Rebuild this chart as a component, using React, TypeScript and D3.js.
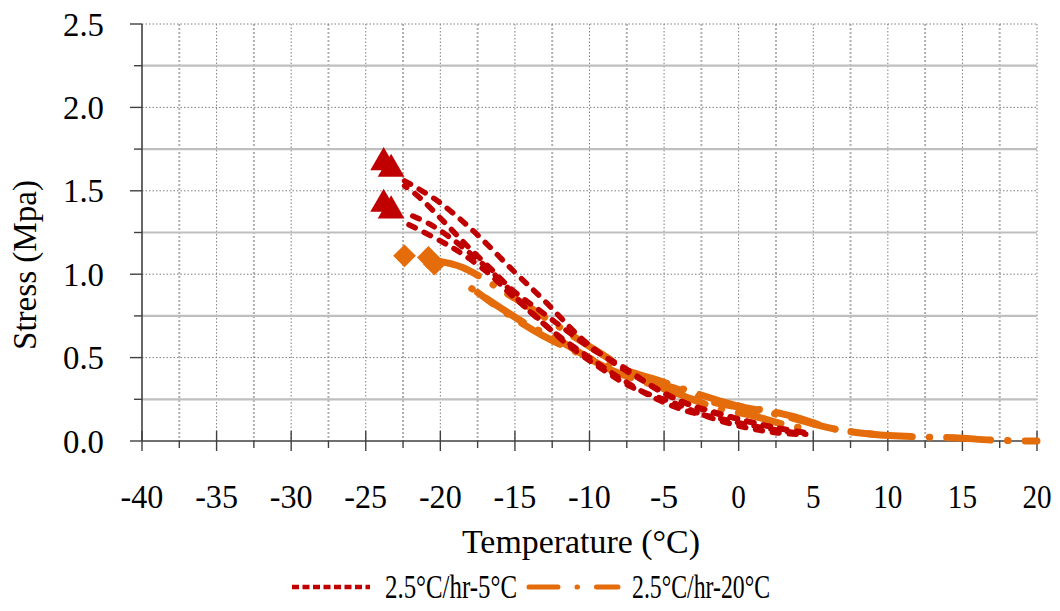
import React from "react";
import * as d3 from "d3";

type Pt = [number, number];

const xTicks = [-40, -35, -30, -25, -20, -15, -10, -5, 0, 5, 10, 15, 20];
const yTicks = [0, 0.5, 1.0, 1.5, 2.0, 2.5];
const seriesNames = ["2.5°C/hr-5°C", "2.5°C/hr-20°C"];

const red1: Pt[] = [[-22.4, 1.56], [-20.2, 1.44], [-17.8, 1.26], [-15.1, 1.02], [-12.9, 0.83], [-10.6, 0.62], [-8.4, 0.47], [-6.2, 0.35], [-3.9, 0.24], [-1.5, 0.17], [1, 0.11], [3, 0.07], [5, 0.04]];
const red2: Pt[] = [[-22.4, 1.53], [-21.4, 1.46], [-19.6, 1.3], [-18.2, 1.17], [-16.7, 1.04], [-15.1, 0.9], [-13.3, 0.78], [-11.5, 0.66], [-9.8, 0.55], [-7.5, 0.43], [-5.3, 0.3], [-2.8, 0.2], [0, 0.13], [2.5, 0.08], [4.5, 0.05]];
const red3: Pt[] = [[-22.4, 1.37], [-20.7, 1.3], [-19.2, 1.21], [-17.8, 1.11], [-15.8, 0.95], [-14.5, 0.82], [-12.5, 0.66], [-10, 0.5], [-8, 0.38], [-5.7, 0.26], [-3.5, 0.18], [-1.5, 0.14], [1, 0.09], [3, 0.06], [4.5, 0.04]];
const red4: Pt[] = [[-22.4, 1.31], [-20, 1.2], [-18.5, 1.12], [-16.7, 1.0], [-15.3, 0.88], [-13.5, 0.74], [-11.5, 0.58], [-9.3, 0.44], [-7.1, 0.32], [-4.4, 0.23], [-1.9, 0.14], [0.5, 0.08], [2.5, 0.05], [4, 0.04]];

const orange1: Pt[] = [[-20.2, 1.08], [-18.5, 1.04], [-15.1, 0.86], [-14, 0.8], [-10.6, 0.6], [-9.5, 0.54], [-6.2, 0.36], [-4.4, 0.32], [-1.6, 0.23], [1, 0.19], [3.5, 0.14], [6, 0.08], [9, 0.04], [12, 0.025], [14.5, 0.02], [17, 0.005], [20, 0.0]];
const orange2: Pt[] = [[-17.5, 0.89], [-15.3, 0.75], [-13.1, 0.63], [-10.8, 0.53], [-8.4, 0.42], [-6.2, 0.35], [-4, 0.28], [-1.5, 0.2], [1, 0.15], [3.5, 0.09], [5, 0.07]];
const orange3: Pt[] = [[-18.5, 0.95], [-16, 0.8], [-14.2, 0.7], [-12, 0.6], [-9.6, 0.48], [-7.5, 0.42], [-5.6, 0.37], [-3, 0.29], [0, 0.21], [2, 0.18], [3.5, 0.15], [6.5, 0.07], [9, 0.04]];

const redMarkers: Pt[] = [[-23.8, 1.67], [-23.3, 1.63], [-23.8, 1.42], [-23.3, 1.38]];
const orangeMarkers: Pt[] = [[-22.4, 1.11], [-20.8, 1.1], [-20.4, 1.06]];

const RED = "#c00000";
const ORANGE = "#e46c0a";
const FONT = "'Liberation Serif', 'Times New Roman', serif";

export default function App() {
  const x = d3.scaleLinear().domain([-40, 20]).range([142, 1037]);
  const y = d3.scaleLinear().domain([0, 2.5]).range([441, 24]);
  const line = d3
    .line<Pt>()
    .x((d) => x(d[0]))
    .y((d) => y(d[1]))
    .curve(d3.curveCatmullRom.alpha(0.5));

  const vGrid = d3.range(-37.5, 20.01, 2.5);
  const hGrid = d3.range(0.25, 2.51, 0.25);
  const xMinor = d3.range(-37.5, 20, 5);
  const yMinor = d3.range(0.25, 2.5, 0.5);

  const tri = d3.symbol().type(d3.symbolTriangle).size(310)();
  const dia = d3.symbol().type(d3.symbolSquare).size(260)();

  const xLabelWidth = (v: number) => {
    const s = String(v);
    return s.length * 14.6 + (s.startsWith("-") ? -1 : 0);
  };

  return (
    <svg
      width={1060}
      height={611}
      style={{ position: "absolute", left: 0, top: 0, background: "#fff" }}
      fontFamily={FONT}
    >
      <rect x={0} y={0} width={1060} height={611} fill="#fff" />
      {vGrid.map((v) => {
        const major = Math.abs(v % 5) < 1e-6;
        return (
          <line
            key={"vg" + v}
            x1={x(v)}
            x2={x(v)}
            y1={y(2.5)}
            y2={y(0)}
            stroke={major ? "#7f7f7f" : "#b0b0b0"}
            strokeWidth={major ? 1 : 2}
            strokeDasharray={major ? "1.5 2" : "2 2"}
          />
        );
      })}
      {hGrid.map((v) => {
        const major = Math.abs((v * 2) % 1) < 1e-6;
        return (
          <line
            key={"hg" + v}
            x1={x(-40)}
            x2={x(20)}
            y1={y(v)}
            y2={y(v)}
            stroke={major ? "#7f7f7f" : "#bfbfbf"}
            strokeWidth={major ? 1 : 2.2}
            strokeDasharray={major ? "1.5 2" : undefined}
          />
        );
      })}

      <line x1={x(-40)} x2={x(-40)} y1={y(2.5)} y2={y(0)} stroke="#404040" strokeWidth={1.6} />
      <line x1={x(-40)} x2={x(20)} y1={y(0)} y2={y(0)} stroke="#404040" strokeWidth={1.6} />
      {yTicks.map((v) => (
        <line key={"yt" + v} x1={130} x2={x(-40)} y1={y(v)} y2={y(v)} stroke="#404040" strokeWidth={1.4} />
      ))}
      {yMinor.map((v) => (
        <line key={"ym" + v} x1={134} x2={x(-40)} y1={y(v)} y2={y(v)} stroke="#404040" strokeWidth={1.4} />
      ))}
      {xTicks.map((v) => (
        <line key={"xt" + v} x1={x(v)} x2={x(v)} y1={y(0) - 10} y2={y(0) + 10} stroke="#404040" strokeWidth={1.4} />
      ))}
      {xMinor.map((v) => (
        <line key={"xm" + v} x1={x(v)} x2={x(v)} y1={y(0)} y2={y(0) + 7} stroke="#404040" strokeWidth={1.4} />
      ))}

      {yTicks.map((v) => (
        <text
          key={"yl" + v}
          x={104}
          y={y(v) + 11.5}
          textAnchor="end"
          fontSize={34}
          textLength={41}
          lengthAdjust="spacingAndGlyphs"
          fill="#000"
        >
          {v.toFixed(1)}
        </text>
      ))}
      {xTicks.map((v) => (
        <text
          key={"xl" + v}
          x={x(v)}
          y={508}
          textAnchor="middle"
          fontSize={34}
          textLength={xLabelWidth(v)}
          lengthAdjust="spacingAndGlyphs"
          fill="#000"
        >
          {String(v)}
        </text>
      ))}

      <text x={462} y={553} fontSize={34} textLength={238} lengthAdjust="spacingAndGlyphs" fill="#000">
        Temperature (°C)
      </text>
      <text
        transform="translate(36,350) rotate(-90)"
        x={0}
        y={0}
        fontSize={34}
        textLength={170}
        lengthAdjust="spacingAndGlyphs"
        fill="#000"
      >
        Stress (Mpa)
      </text>

      {[orange1, orange2, orange3].map((s, i) => (
        <path
          key={"o" + i}
          d={line(s) || ""}
          fill="none"
          stroke={ORANGE}
          strokeWidth={7}
          strokeDasharray="44 17 0.5 17"
          strokeDashoffset={i * 25}
          strokeLinecap="round"
        />
      ))}
      {[red1, red2, red3, red4].map((s, i) => (
        <path
          key={"r" + i}
          d={line(s) || ""}
          fill="none"
          stroke={RED}
          strokeWidth={5.5}
          strokeDasharray="7 10"
          strokeDashoffset={i * 4}
          strokeLinecap="round"
        />
      ))}
      {redMarkers.map((p, i) => (
        <path key={"rm" + i} d={tri || ""} transform={`translate(${x(p[0])},${y(p[1])})`} fill={RED} />
      ))}
      {orangeMarkers.map((p, i) => (
        <path
          key={"om" + i}
          d={dia || ""}
          transform={`translate(${x(p[0])},${y(p[1])}) rotate(45)`}
          fill={ORANGE}
        />
      ))}

      <line x1={292} x2={370} y1={587} y2={587} stroke={RED} strokeWidth={4.5} strokeDasharray="7 3.5" />
      <text x={385} y={598} fontSize={33} textLength={132} lengthAdjust="spacingAndGlyphs" fill="#000">
        {seriesNames[0]}
      </text>
      <line
        x1={529}
        x2={618}
        y1={587}
        y2={587}
        stroke={ORANGE}
        strokeWidth={5}
        strokeLinecap="round"
        strokeDasharray="29 19 0.5 19"
      />
      <text x={632} y={598} fontSize={33} textLength={138} lengthAdjust="spacingAndGlyphs" fill="#000">
        {seriesNames[1]}
      </text>
    </svg>
  );
}
